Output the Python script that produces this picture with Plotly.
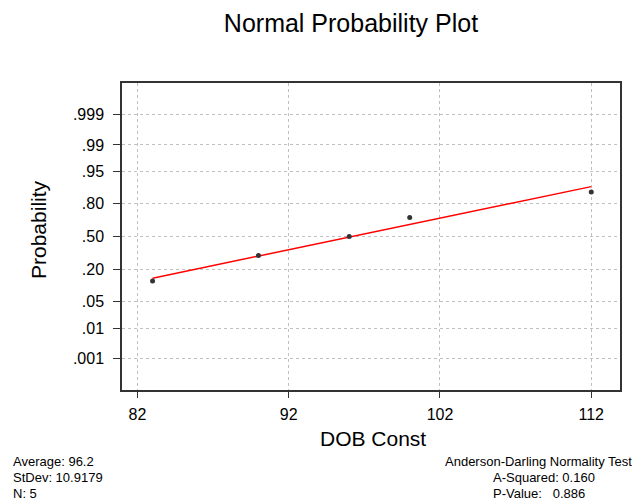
import math
import plotly.graph_objects as go

# ---- data ----
dob_const = [83, 90, 96, 100, 112]
plot_prob = [0.1296, 0.3148, 0.5, 0.6852, 0.8704]   # plotting positions (Benard)
tick_prob = [0.001, 0.01, 0.05, 0.20, 0.50, 0.80, 0.95, 0.99, 0.999]
tick_text = [".001", ".01", ".05", ".20", ".50", ".80", ".95", ".99", ".999"]
x_ticks = [82, 92, 102, 112]
stats_left = ["Average: 96.2", "StDev: 10.9179", "N: 5"]
stats_right = ["Anderson-Darling Normality Test", "A-Squared: 0.160", "P-Value:   0.886"]


def norm_ppf(p):
    lo, hi = -10.0, 10.0
    for _ in range(100):
        mid = (lo + hi) / 2
        if 0.5 * (1 + math.erf(mid / math.sqrt(2))) < p:
            lo = mid
        else:
            hi = mid
    return (lo + hi) / 2


z_pts = [norm_ppf(p) for p in plot_prob]
z_ticks = [norm_ppf(p) for p in tick_prob]

# least squares fit of x on z
n = len(dob_const)
mx = sum(dob_const) / n
mz = sum(z_pts) / n
slope = sum((z - mz) * (x - mx) for z, x in zip(z_pts, dob_const)) / sum((z - mz) ** 2 for z in z_pts)
line_x = [min(dob_const), max(dob_const)]
line_z = [(x - mx) / slope + mz for x in line_x]

FONT = "Liberation Sans, Arial, sans-serif"

fig = go.Figure()
fig.add_trace(go.Scatter(x=line_x, y=line_z, mode="lines",
                         line=dict(color="#ff0000", width=1.5), showlegend=False,
                         hoverinfo="skip"))
fig.add_trace(go.Scatter(x=dob_const, y=z_pts, mode="markers",
                         marker=dict(color="#333333", size=5, symbol="circle"),
                         showlegend=False))

OFF = 8  # page body margin
W, H = 640 - OFF, 500 - OFF
L, R, T, B = 114, 20, 75, 110
pw, ph = W - L - R, H - T - B


def px(xp):
    return (xp - OFF - L) / pw


def py(yp):
    return (H - B - (yp - OFF)) / ph


fig.update_layout(
    width=W, height=H,
    margin=dict(l=L, r=R, t=T, b=B),
    paper_bgcolor="white", plot_bgcolor="white",
    font=dict(family=FONT, color="#000000"),
    title=dict(text="Normal Probability Plot", font=dict(size=25, family=FONT, color="#000"),
               x=(351 - OFF) / W, xanchor="center", xref="container",
               y=1 - (23 - OFF) / H, yanchor="middle", yref="container"),
    xaxis=dict(range=[80.98, 113.9], tickvals=x_ticks, ticktext=[str(v) for v in x_ticks],
               showgrid=True, gridcolor="#c0c0c0", griddash="3px,3px", gridwidth=1,
               zeroline=False, showline=True, linecolor="#333333", linewidth=1.5, mirror=True,
               ticks="outside", ticklen=6, tickcolor="#333333",
               tickfont=dict(size=16, family=FONT, color="#000"), ticklabelstandoff=3),
    yaxis=dict(range=[-3.9, 3.9], tickvals=z_ticks, ticktext=tick_text,
               showgrid=True, gridcolor="#c0c0c0", griddash="3px,3px", gridwidth=1,
               zeroline=False, showline=True, linecolor="#333333", linewidth=1.5, mirror=True,
               ticks="outside", ticklen=7, tickcolor="#333333",
               tickfont=dict(size=16, family=FONT, color="#000"), ticklabelstandoff=6),
)

ann = []
ann.append(dict(text="DOB Const", x=px(373), y=py(438), xref="paper", yref="paper",
                showarrow=False, xanchor="center", yanchor="middle",
                font=dict(size=21, family=FONT, color="#000")))
ann.append(dict(text="Probability", x=px(38), y=py(230), xref="paper", yref="paper",
                showarrow=False, xanchor="center", yanchor="middle", textangle=-90,
                font=dict(size=21, family=FONT, color="#000")))
for t, yy in zip(stats_left, [461, 477, 493]):
    ann.append(dict(text=t, x=px(11), y=py(yy), xref="paper", yref="paper",
                    showarrow=False, xanchor="left", yanchor="middle",
                    font=dict(size=13, family=FONT, color="#000")))
ann.append(dict(text=stats_right[0], x=px(634), y=py(461), xref="paper", yref="paper",
                showarrow=False, xanchor="right", yanchor="middle",
                font=dict(size=13, family=FONT, color="#000")))
for t, yy in zip(stats_right[1:], [477, 493]):
    ann.append(dict(text=t, x=px(491), y=py(yy), xref="paper", yref="paper",
                    showarrow=False, xanchor="left", yanchor="middle",
                    font=dict(size=13, family=FONT, color="#000")))
fig.update_layout(annotations=ann)

fig.write_html("out.html")
